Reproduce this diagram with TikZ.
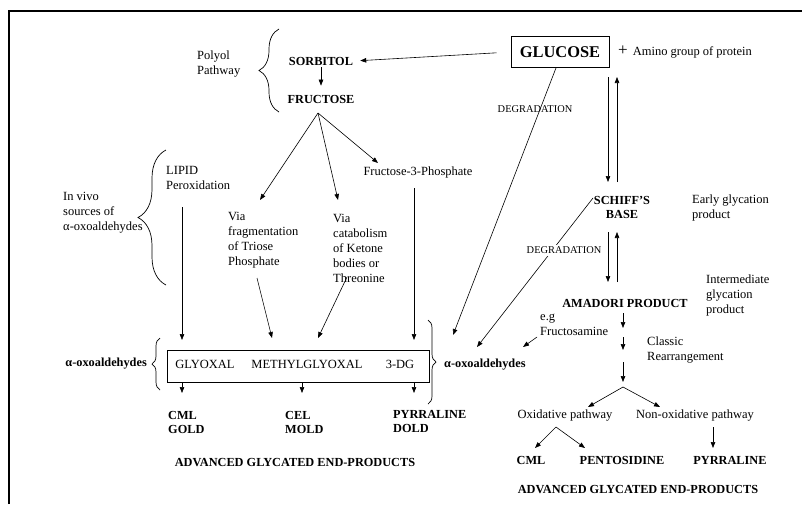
\documentclass[tikz,border=0pt]{standalone}
\usepackage{fontspec}
\setmainfont{Liberation Serif}
\usetikzlibrary{arrows.meta,positioning,calc,decorations.pathreplacing}

\begin{document}
\begin{tikzpicture}[x=1pt, y=-1pt,
  txt/.style={font=\fontsize{12.5}{15}\selectfont, inner sep=1pt, align=left},
  prod/.style={font=\fontsize{12.3}{14}\selectfont\bfseries, inner sep=1pt, align=left},
  tiny/.style={font=\fontsize{10.4}{12}\selectfont, inner sep=1pt},
  arr/.style={-{Triangle[length=6pt,width=4.5pt]}, line width=0.6pt},
  brc/.style={decorate, decoration={brace, amplitude=#1}, line width=0.7pt},
  brc/.default=10pt
]
\useasboundingbox (0,0) rectangle (802,504);
\draw[line width=1.6pt] (9,504) -- (9,11) -- (802,11);

% glucose and polyol pathway
\node[draw, line width=0.8pt, font=\fontsize{16.4}{18}\selectfont\bfseries,
  minimum width=98pt, minimum height=31pt, inner sep=2pt] (glucose) at (560,52) {GLUCOSE};
\node[txt, anchor=west] (amino) at (617,52) {{\fontsize{17}{17}\selectfont +}\hspace{5pt}Amino group of protein};
\node[prod] (sorbitol) at (321,61) {SORBITOL};
\node[prod] (fructose) at (321,99) {FRUCTOSE};
\node[txt, anchor=west] (polyol) at (196,64.5) {Polyol\\Pathway};
\draw[brc=20pt] (279,112) -- (279,29);

\draw[arr, shorten <=14pt, shorten >=6pt] (glucose.west) -- (sorbitol.east);
\draw[arr, shorten <=1pt, shorten >=8pt] (sorbitol) -- (fructose);

% in vivo sources
\node[txt, anchor=west] (lipid) at (165,177.5) {LIPID\\Peroxidation};
\node[txt, anchor=west] (invivo) at (62,213) {In vivo\\sources of\\α-oxoaldehydes};
\draw[brc=28pt] (166,285) -- (166,150);
\node[txt] (f3p) at (418,172) {Fructose-3-Phosphate};
\node[txt, anchor=west] (viafrag) at (227,240.5) {Via\\fragmentation\\of Triose\\Phosphate};
\node[txt, anchor=west] (viacat) at (332,248) {Via\\catabolism\\of Ketone\\bodies or\\Threonine};

\coordinate (fapex) at (318,113);
\coordinate (fragin) at (260,200);
\coordinate (catin) at (338,200);
\coordinate (f3pin) at (378,163);
\draw[arr] (fapex) -- (fragin);
\draw[arr] (fapex) -- (catin);
\draw[arr] (fapex) -- (f3pin);

% alpha-oxoaldehydes box
\node[draw, line width=0.8pt, minimum width=262pt, minimum height=32pt, inner sep=0pt] (oxobox) at (298,366) {};
\node[txt] (glyoxal) at (205,364) {GLYOXAL};
\node[txt] (methyl) at (307,364) {METHYLGLYOXAL};
\node[txt] (threedg) at (400,364) {3-DG};
\node[prod, anchor=east] (oxoleft) at (148,364) {α-oxoaldehydes};
\draw[brc=8pt] (160,390) -- (160,338);
\draw[brc=8pt] (428,320) -- (428,404);
\node[prod, anchor=west] (oxoright) at (443,365) {α-oxoaldehydes};

\coordinate (lipidout) at (182,207);
\coordinate (lipidin) at (182,340);
\coordinate (fragout) at (257,278);
\coordinate (fragend) at (272,338);
\coordinate (catout) at (347,277);
\coordinate (catend) at (318,338);
\coordinate (f3pout) at (414,188);
\coordinate (f3pend) at (414,340);
\draw[arr] (lipidout) -- (lipidin);
\draw[arr] (fragout) -- (fragend);
\draw[arr] (catout) -- (catend);
\draw[arr] (f3pout) -- (f3pend);

% left end-products
\node[prod, anchor=west] (cml1) at (167,422) {CML\\GOLD};
\node[prod, anchor=west] (cel) at (284,422) {CEL\\MOLD};
\node[prod, anchor=west] (pyrr1) at (392,421) {PYRRALINE\\DOLD};
\node[prod] (age1) at (295,463) {ADVANCED GLYCATED END-PRODUCTS};
\coordinate (d1) at (182,393);
\coordinate (d2) at (302,393);
\coordinate (d3) at (414,393);
\draw[arr] (oxobox.south -| d1) -- (d1);
\draw[arr] (oxobox.south -| d2) -- (d2);
\draw[arr] (oxobox.south -| d3) -- (d3);

% glycation pathway
\node[prod, align=center] (schiff) at (622,207.5) {SCHIFF'S\\BASE};
\node[txt, anchor=west] (early) at (691,207.5) {Early glycation\\product};
\node[prod] (amadori) at (625,303) {AMADORI PRODUCT};
\node[txt, anchor=west] (intermed) at (705,295) {Intermediate\\glycation\\product};
\node[txt, anchor=west] (fructosamine) at (539,324.5) {e.g\\Fructosamine};
\node[txt, anchor=west] (classic) at (646,350) {Classic\\Rearrangement};

\coordinate (gs1) at (608,77);
\coordinate (gs2) at (608,182);
\coordinate (gs3) at (617,182);
\coordinate (gs4) at (617,77);
\draw[arr] (gs1) -- (gs2);
\draw[arr] (gs3) -- (gs4);
\coordinate (sa1) at (608,232);
\coordinate (sa2) at (608,282);
\coordinate (sa3) at (617,282);
\coordinate (sa4) at (617,232);
\draw[arr] (sa1) -- (sa2);
\draw[arr] (sa3) -- (sa4);

% degradation routes
\coordinate (oxo1) at (453,335);
\coordinate (oxo2) at (477,347);
\coordinate (oxo3) at (523,347);
\coordinate (schiffout) at (593,198);
\coordinate (famout) at (537,337);
\draw[arr] (glucose.south) ++(-4,0) -- (oxo1);
\node[tiny] (degr1) at (535,109) {DEGRADATION};
\draw[arr] (schiffout) -- (oxo2);
\node[tiny, fill=white, inner sep=2pt] (degr2) at (564,250) {DEGRADATION};
\draw[arr] (famout) -- (oxo3);

% rearrangement and end-products
\coordinate (r1) at (623,313);
\coordinate (r2) at (623,328);
\coordinate (r3) at (623,337);
\coordinate (r4) at (623,350);
\coordinate (r5) at (623,362);
\coordinate (r6) at (623,382);
\draw[arr] (r1) -- (r2);
\draw[arr] (r3) -- (r4);
\draw[arr] (r5) -- (r6);

\node[txt] (oxid) at (565,416) {Oxidative pathway};
\node[txt] (nonoxid) at (695,416) {Non-oxidative pathway};
\coordinate (fork1) at (623,387);
\coordinate (oxidin) at (588,407);
\coordinate (nonoxin) at (660,407);
\draw[arr] (fork1) -- (oxidin);
\draw[arr] (fork1) -- (nonoxin);

\node[prod] (cml2) at (531,460) {CML};
\node[prod] (pento) at (622,460) {PENTOSIDINE};
\node[prod] (pyrr2) at (730,460) {PYRRALINE};
\node[prod] (age2) at (638,490) {ADVANCED GLYCATED END-PRODUCTS};
\coordinate (fork2) at (556,427);
\coordinate (cmlin) at (535,448);
\coordinate (pentoin) at (585,448);
\coordinate (nonoxout) at (713,427);
\coordinate (pyrrin) at (713,448);
\draw[arr] (fork2) -- (cmlin);
\draw[arr] (fork2) -- (pentoin);
\draw[arr] (nonoxout) -- (pyrrin);

\end{tikzpicture}
\end{document}
